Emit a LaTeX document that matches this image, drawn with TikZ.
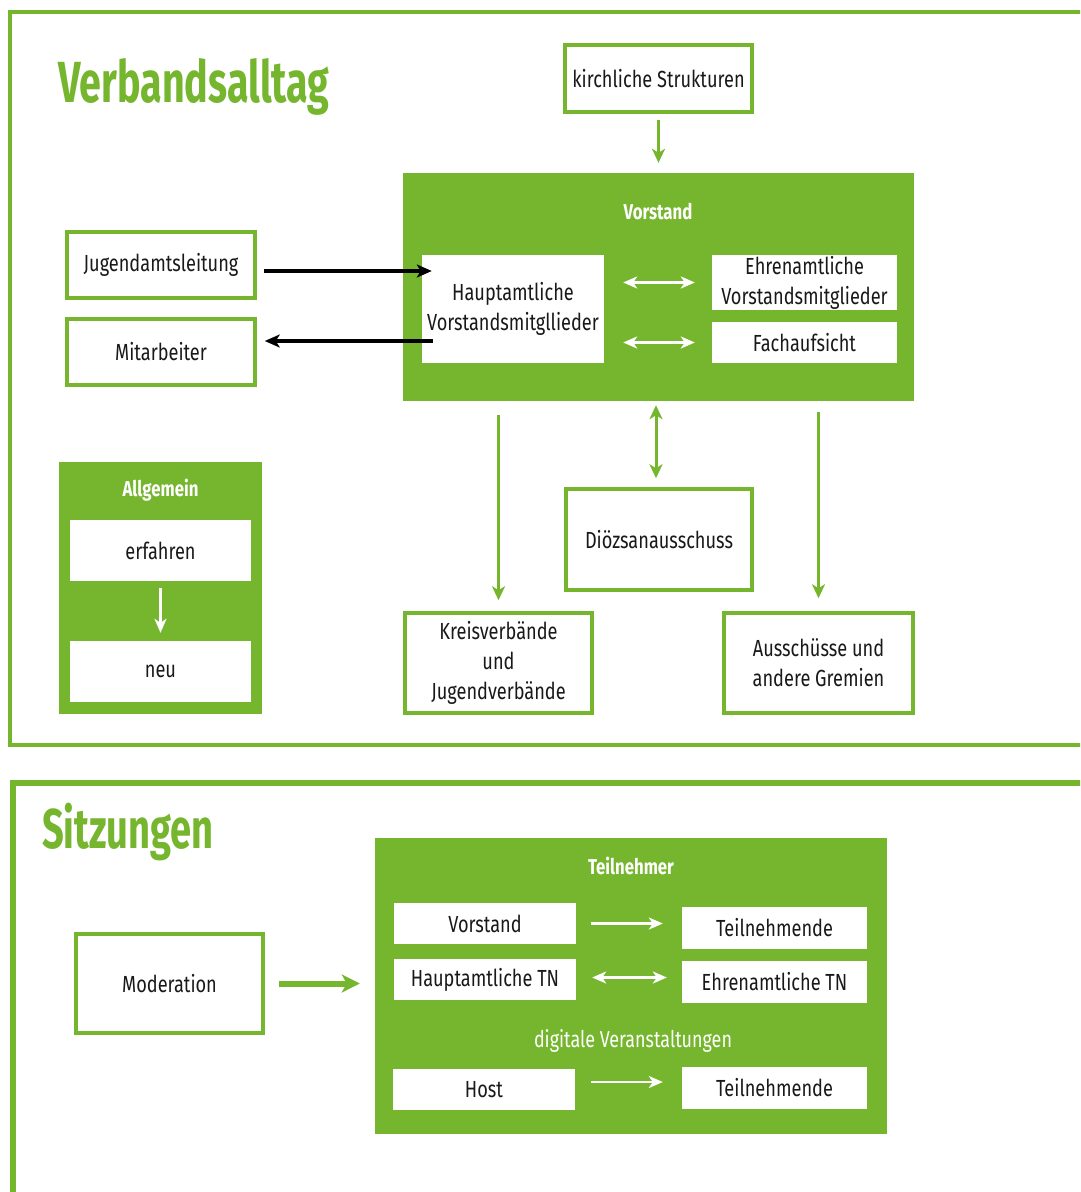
\documentclass[tikz,border=0pt]{standalone}
\usepackage{fontspec}
\setmainfont{Fira Sans}[FakeStretch=0.78]
\newfontfamily\titlefont{Fira Sans}[FakeStretch=0.68]
\usetikzlibrary{arrows.meta}
\definecolor{vgreen}{RGB}{118,182,46}
\definecolor{txt}{RGB}{25,25,25}
\begin{document}
\begin{tikzpicture}[x=1pt,y=-1pt,
  lbl/.style={font=\fontsize{23.3}{30}\selectfont, text=txt},
  obox/.style={draw=vgreen, line width=3.5pt, fill=white, inner sep=0pt, align=center, lbl},
  gbox/.style={fill=vgreen, inner sep=0pt},
  wbox/.style={fill=white, inner sep=0pt, align=center, lbl},
  head/.style={font=\bfseries\fontsize{21.5}{25}\selectfont, text=white},
  garrow/.style={draw=vgreen, line width=3pt, -{Stealth[length=14pt,width=13pt,inset=4pt]}},
  gdarrow/.style={draw=vgreen, line width=3pt, {Stealth[length=14pt,width=13pt,inset=4pt]}-{Stealth[length=14pt,width=13pt,inset=4pt]}},
  barrow/.style={draw=black, line width=3.2pt, -{Stealth[length=15pt,width=13pt,inset=4pt]}},
  warrow/.style={draw=white, line width=2.5pt, -{Stealth[length=14pt,width=12pt,inset=4pt]}},
  wdarrow/.style={draw=white, line width=2.5pt, {Stealth[length=14pt,width=12pt,inset=4pt]}-{Stealth[length=14pt,width=12pt,inset=4pt]}},
  ttl/.style={font=\titlefont\bfseries\fontsize{58}{62}\selectfont, text=vgreen, anchor=base west, inner sep=0pt}
]
\useasboundingbox (0,0) rectangle (1080,1192);
\fill[white] (0,0) rectangle (1080,1192);
\clip (0,0) rectangle (1080,1192);

% frames
\draw[vgreen, line width=4pt] (1100,12) -- (10,12) -- (10,745) -- (1100,745);
\draw[vgreen, line width=6pt] (1100,783) -- (13,783) -- (13,1210);

% titles
\node[ttl] (t1) at (58,102) {Verbandsalltag};
\node[ttl, font=\titlefont\bfseries\fontsize{56}{60}\selectfont] (t2) at (42,848) {Sitzungen};

% upper part
\node[obox, minimum width=187pt, minimum height=67pt] (kirch) at (658.5,78.5) {kirchliche Strukturen};
\node[gbox, minimum width=511pt, minimum height=228pt] (vor) at (658.5,287) {};
\node[head] (vorl) at (658,212) {Vorstand};
\node[wbox, minimum width=182pt, minimum height=108pt] (haupt) at (513,309) {Hauptamtliche\\Vorstandsmitgllieder};
\node[wbox, minimum width=185pt, minimum height=55pt] (ehren) at (804.5,282.5) {Ehrenamtliche\\Vorstandsmitglieder};
\node[wbox, minimum width=185pt, minimum height=41pt] (fach) at (804.5,342.5) {Fachaufsicht};
\node[obox, minimum width=188pt, minimum height=66pt] (jug) at (161,265) {Jugendamtsleitung};
\node[obox, minimum width=188pt, minimum height=66pt] (mit) at (161,352) {Mitarbeiter};

\node[gbox, minimum width=203pt, minimum height=252pt] (allg) at (160.5,588) {};
\node[head] (allgl) at (160.5,490) {Allgemein};
\node[wbox, minimum width=181pt, minimum height=61pt] (erf) at (160.5,550.5) {erfahren};
\node[wbox, minimum width=181pt, minimum height=61pt] (neu) at (160.5,671.5) {neu};

\node[obox, minimum width=186pt, minimum height=101pt] (dioez) at (659,539.5) {Diözsanausschuss};
\node[obox, minimum width=187pt, minimum height=100pt] (kreis) at (498.5,663) {Kreisverbände\\und\\Jugendverbände};
\node[obox, minimum width=189pt, minimum height=100pt] (aus) at (818.5,663) {Ausschüsse und\\andere Gremien};

% upper connectors
\draw[garrow, shorten <=6pt, shorten >=10pt] (kirch.south) -- (kirch.south |- vor.north);
\draw[barrow, shorten <=7pt, shorten >=-10pt] ([yshift=-6pt]jug.east) -- ([yshift=-6pt]jug.east -| haupt.west);
\draw[barrow, shorten <=-11pt, shorten >=8pt] ([yshift=11pt]mit.east -| haupt.west) -- ([yshift=11pt]mit.east);
\draw[wdarrow, shorten <=19pt, shorten >=17pt] (haupt.east |- ehren.west) -- (ehren.west);
\draw[wdarrow, shorten <=19pt, shorten >=17pt] (haupt.east |- fach.west) -- (fach.west);
\draw[garrow, shorten <=14pt, shorten >=11pt] (kreis.north |- vor.south) -- (kreis.north);
\draw[gdarrow, shorten <=4pt, shorten >=9pt] ([xshift=-3pt]dioez.north |- vor.south) -- ([xshift=-3pt]dioez.north);
\draw[garrow, shorten <=11pt, shorten >=13pt] (aus.north |- vor.south) -- (aus.north);
\draw[warrow, shorten <=7pt, shorten >=8pt] (erf.south) -- (neu.north);

% lower part
\node[obox, minimum width=187pt, minimum height=99pt] (mod) at (169.5,983.5) {Moderation};
\node[gbox, minimum width=512pt, minimum height=296pt] (teil) at (631,986) {};
\node[head] (teill) at (631,866) {Teilnehmer};
\node[wbox, minimum width=182pt, minimum height=41pt] (tvor) at (485,923.5) {Vorstand};
\node[wbox, minimum width=185pt, minimum height=42pt] (tt1) at (774.5,928) {Teilnehmende};
\node[wbox, minimum width=182pt, minimum height=41pt] (thaupt) at (485,979.5) {Hauptamtliche TN};
\node[wbox, minimum width=185pt, minimum height=42pt] (tehren) at (774.5,982) {Ehrenamtliche TN};
\node[font=\fontsize{23}{28}\selectfont, text=white] (dig) at (633,1041) {digitale Veranstaltungen};
\node[wbox, minimum width=182pt, minimum height=41pt] (host) at (484,1089.5) {Host};
\node[wbox, minimum width=185pt, minimum height=42pt] (tt2) at (774.5,1088) {Teilnehmende};

\draw[vgreen, line width=6pt, -{Stealth[length=18pt,width=18pt,inset=5pt]}, shorten <=14pt, shorten >=15pt] (mod.east) -- (mod.east -| teil.west);
\draw[warrow, shorten <=15pt, shorten >=19pt] (tvor.east) -- (tvor.east -| tt1.west);
\draw[wdarrow, shorten <=16pt, shorten >=15pt] ([yshift=2pt]thaupt.east) -- ([yshift=2pt]thaupt.east -| tehren.west);
\draw[warrow, shorten <=16pt, shorten >=19pt] ([yshift=7.5pt]host.east) -- ([yshift=7.5pt]host.east -| tt2.west);
\end{tikzpicture}
\end{document}
